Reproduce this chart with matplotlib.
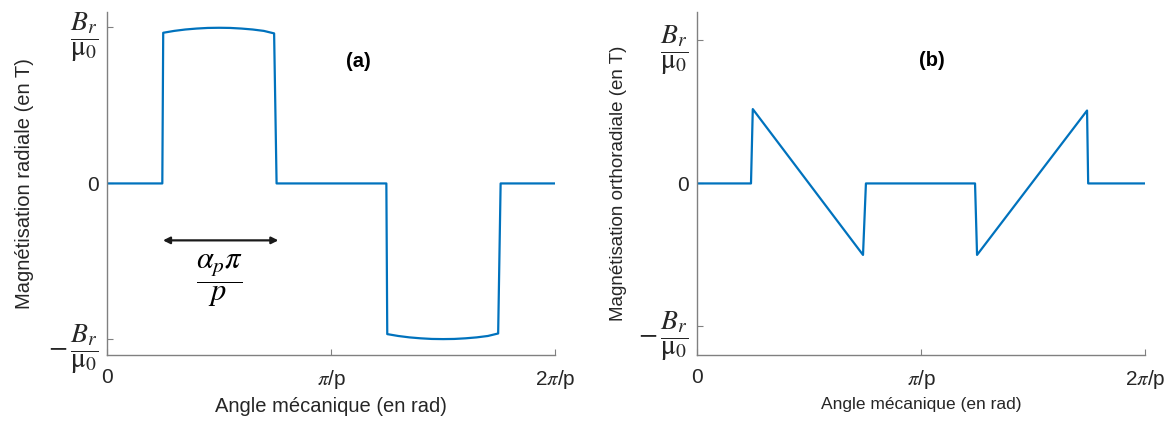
import matplotlib
matplotlib.use("Agg")
import matplotlib.pyplot as plt

plt.rcParams['font.family'] = ['Liberation Sans', 'DejaVu Sans']
plt.rcParams['mathtext.fontset'] = 'stix'

# angle in units of pi/p
x_rad = [0, 0.247, 0.251, 0.30, 0.35, 0.40, 0.45, 0.50, 0.55, 0.60, 0.65, 0.70, 0.746, 0.757,
         1.247, 1.251, 1.30, 1.35, 1.40, 1.45, 1.50, 1.55, 1.60, 1.65, 1.70, 1.746, 1.757, 2.0]
y_rad = [0, 0, 0.966, 0.978, 0.987, 0.993, 0.997, 0.998, 0.997, 0.993, 0.987, 0.978, 0.962, 0,
         0, -0.966, -0.978, -0.987, -0.993, -0.997, -0.998, -0.997, -0.993, -0.987, -0.978, -0.962, 0, 0]

x_orth = [0, 0.241, 0.249, 0.741, 0.754, 1.241, 1.25, 1.741, 1.746, 2.0]
y_orth = [0, 0, 0.52, -0.5, 0, 0, -0.5, 0.51, 0, 0]

xticks = [0, 1, 2]
xtick_labels = ['0', r'$\pi$/p', r'2$\pi$/p']
ytick_labels = [r'$-\,\dfrac{B_r}{\mathrm{\mu}_0}$', '0', r'$\dfrac{B_r}{\mathrm{\mu}_0}$']

blue = '#0072BD'
gray = '#808080'
txt = '#262626'

fig = plt.figure(figsize=(11.73, 4.3), dpi=100)
ax1 = fig.add_axes([0.0912, 0.1744, 0.382, 0.798])
ax2 = fig.add_axes([0.5942, 0.1744, 0.382, 0.798])


def style(ax, ylim, fs):
    ax.set_xlim(0, 2)
    ax.set_ylim(*ylim)
    for s in ['top', 'right']:
        ax.spines[s].set_visible(False)
    for s in ['left', 'bottom']:
        ax.spines[s].set_color(gray)
        ax.spines[s].set_linewidth(1.0)
    ax.set_xticks(xticks)
    ax.set_xticklabels(xtick_labels, fontsize=15, color=txt)
    ax.set_yticks([-1, 0, 1])
    ax.set_yticklabels(ytick_labels, color=txt)
    for i, lab in enumerate(ax.get_yticklabels()):
        lab.set_fontsize(15 if i == 1 else 20)
    ax.tick_params(direction='in', length=4, color=gray, pad=6)
    ax.tick_params(axis='x', pad=9)
    ax.set_xlabel('Angle mécanique (en rad)', fontsize=fs, color=txt, labelpad=5)


ax1.plot(x_rad, y_rad, color=blue, lw=1.6)
style(ax1, (-1.1, 1.1), 14.5)
ax1.set_ylabel('Magnétisation radiale (en T)', fontsize=14.5, color=txt, labelpad=10)
ax1.text(1.12, 0.78, '(a)', fontsize=14.5, fontweight='bold', ha='center', va='center')
ax1.annotate('', xy=(0.25, -0.365), xytext=(0.765, -0.365),
             arrowprops=dict(arrowstyle='<|-|>', color='#1a1a1a', lw=1.6,
                             mutation_scale=10, shrinkA=0, shrinkB=0))
ax1.text(0.505, -0.62, r'$\dfrac{\alpha_p\pi}{p}$', fontsize=22, ha='center', va='center')

ax2.plot(x_orth, y_orth, color=blue, lw=1.6)
style(ax2, (-1.2, 1.2), 12.5)
ax2.set_ylabel('Magnétisation orthoradiale (en T)', fontsize=13.5, color=txt, labelpad=8)
ax2.text(1.05, 0.86, '(b)', fontsize=14.5, fontweight='bold', ha='center', va='center')

fig.savefig('out.png', dpi=100)
